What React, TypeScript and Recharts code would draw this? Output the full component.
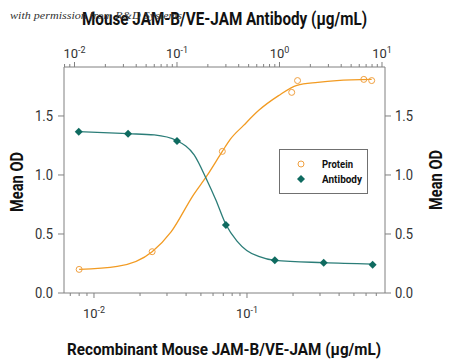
import React from 'react';
import { ComposedChart, XAxis, YAxis, Line, Scatter, Legend } from 'recharts';

// measured points: protein on bottom axis, antibody on top axis
const proteinConc = [0.008, 0.024, 0.069, 0.196, 0.214, 0.58, 0.653];
const proteinOD = [0.2, 0.35, 1.2, 1.7, 1.8, 1.81, 1.8];
const antibodyConc = [0.011, 0.0333, 0.1, 0.3, 0.9, 2.7, 8.1];
const antibodyOD = [1.367, 1.35, 1.288, 0.576, 0.277, 0.257, 0.24];

// fitted curves
const proteinFitConc = [0.008, 0.0142, 0.024, 0.032, 0.0446, 0.0545, 0.069, 0.0775, 0.095, 0.12, 0.16, 0.212, 0.29, 0.386, 0.653];
const proteinFitOD = [0.2, 0.225, 0.35, 0.52, 0.83, 0.99, 1.2, 1.3, 1.42, 1.55, 1.67, 1.76, 1.785, 1.8, 1.81];
const antibodyFitConc = [0.011, 0.0333, 0.06, 0.1, 0.147, 0.195, 0.239, 0.3, 0.385, 0.479, 0.626, 0.9, 2.7, 8.1];
const antibodyFitOD = [1.367, 1.35, 1.339, 1.29, 1.17, 0.96, 0.79, 0.58, 0.44, 0.36, 0.31, 0.277, 0.257, 0.245];

const yTicks = [0, 0.5, 1, 1.5];
const yTickLabels = ['0.0', '0.5', '1.0', '1.5'];
const bottomMajor = [0.01, 0.1];
const bottomMajorExp = ['-2', '-1'];
const bottomMinor = [0.007, 0.008, 0.009, 0.02, 0.03, 0.04, 0.05, 0.06, 0.07, 0.08, 0.09, 0.2, 0.3, 0.4, 0.5, 0.6, 0.7];
const topMajor = [0.01, 0.1, 1, 10];
const topMajorExp = ['-2', '-1', '0', '1'];
const topMinor = [0.008, 0.009, 0.02, 0.03, 0.04, 0.05, 0.06, 0.07, 0.08, 0.09, 0.2, 0.3, 0.4, 0.5, 0.6, 0.7, 0.8, 0.9, 2, 3, 4, 5, 6, 7, 8, 9];

const proteinPts = proteinConc.map((x, i) => ({ x, y: proteinOD[i] }));
const antibodyPts = antibodyConc.map((x, i) => ({ x, y: antibodyOD[i] }));
const proteinFit = proteinFitConc.map((x, i) => ({ x, y: proteinFitOD[i] }));
const antibodyFit = antibodyFitConc.map((x, i) => ({ x, y: antibodyFitOD[i] }));

const FONT = 'Roboto, "Liberation Sans", sans-serif';
const AXIS = '#808080';
const ORANGE_LINE = '#F29B22';
const ORANGE_PT = '#F0A040';
const TEAL_LINE = '#2B7D78';
const TEAL_PT = '#0F6B60';

const BottomTick = (props: any) => {
  const { x, y, payload } = props;
  const idx = bottomMajor.indexOf(payload.value);
  const major = idx >= 0;
  return (
    <g>
      <line x1={x} x2={x} y1={y} y2={y + (major ? 5 : 3)} stroke={AXIS} />
      {major && (
        <text x={x} y={y + 25} textAnchor="middle" fontSize={13} fontFamily={FONT} fill="#333">
          10<tspan dy={-5} fontSize={9}>{bottomMajorExp[idx]}</tspan>
        </text>
      )}
    </g>
  );
};

const TopTick = (props: any) => {
  const { x, y, payload } = props;
  const idx = topMajor.indexOf(payload.value);
  const major = idx >= 0;
  return (
    <g>
      <line x1={x} x2={x} y1={y} y2={y - (major ? 5 : 3)} stroke={AXIS} />
      {major && (
        <text x={x} y={y - 9} textAnchor="middle" fontSize={13} fontFamily={FONT} fill="#333">
          10<tspan dy={-5} fontSize={9}>{topMajorExp[idx]}</tspan>
        </text>
      )}
    </g>
  );
};

const LeftTick = (props: any) => {
  const { x, y, payload } = props;
  const label = yTickLabels[yTicks.indexOf(payload.value)];
  return (
    <g>
      <line x1={x - 6} x2={x} y1={y} y2={y} stroke={AXIS} />
      <text x={x - 11} y={y + 5} textAnchor="end" fontSize={15} fontFamily={FONT} fill="#333"
        textLength={18} lengthAdjust="spacingAndGlyphs">{label}</text>
    </g>
  );
};

const RightTick = (props: any) => {
  const { x, y, payload } = props;
  const label = yTickLabels[yTicks.indexOf(payload.value)];
  return (
    <g>
      <line x1={x} x2={x + 6} y1={y} y2={y} stroke={AXIS} />
      <text x={x + 10} y={y + 5} textAnchor="start" fontSize={15} fontFamily={FONT} fill="#333"
        textLength={18} lengthAdjust="spacingAndGlyphs">{label}</text>
    </g>
  );
};

const TopTitle = () => (
  <g>
    <text x={82} y={25} fontSize={18.5} fontWeight="bold" fontFamily={FONT} fill="#111"
      textLength={285} lengthAdjust="spacingAndGlyphs">Mouse JAM-B/VE-JAM Antibody (μg/mL)</text>
    <text x={10} y={19} fontSize={11} fontStyle="italic" fontFamily='"Liberation Serif", serif' fill="#333"
      textLength={172} lengthAdjust="spacingAndGlyphs">with permission from R&amp;D Systems</text>
  </g>
);

const BottomTitle = () => (
  <text x={67} y={355} fontSize={17} fontWeight="bold" fontFamily={FONT} fill="#111"
    textLength={314} lengthAdjust="spacingAndGlyphs">Recombinant Mouse JAM-B/VE-JAM (μg/mL)</text>
);

const LeftTitle = () => (
  <text transform="rotate(-90)" x={-182} y={23} textAnchor="middle" fontSize={18} fontWeight="bold"
    fontFamily={FONT} fill="#111" textLength={60} lengthAdjust="spacingAndGlyphs">Mean OD</text>
);

const RightTitle = () => (
  <text transform="rotate(-90)" x={-180} y={442} textAnchor="middle" fontSize={18} fontWeight="bold"
    fontFamily={FONT} fill="#111" textLength={60} lengthAdjust="spacingAndGlyphs">Mean OD</text>
);

const LegendBox = () => (
  <div style={{ width: 89, height: 45, border: '1px solid #707070', boxSizing: 'border-box', background: '#fff' }}>
    <svg width={87} height={43} style={{ display: 'block' }}>
      <circle cx={21} cy={14} r={3} fill="none" stroke={ORANGE_PT} />
      <text x={42} y={18} fontSize={11} fontWeight="bold" fontFamily={FONT} fill="#111"
        textLength={31} lengthAdjust="spacingAndGlyphs">Protein</text>
      <path d="M21,25 L25,29 L21,33 L17,29 Z" fill={TEAL_PT} />
      <text x={42} y={33} fontSize={11} fontWeight="bold" fontFamily={FONT} fill="#111"
        textLength={40} lengthAdjust="spacingAndGlyphs">Antibody</text>
    </svg>
  </div>
);

const circleShape = (p: any) => (
  <circle cx={p.cx} cy={p.cy} r={3} fill="none" stroke={ORANGE_PT} strokeWidth={1} />
);
const diamondShape = (p: any) => (
  <path d={`M${p.cx},${p.cy - 4} L${p.cx + 4},${p.cy} L${p.cx},${p.cy + 4} L${p.cx - 4},${p.cy} Z`} fill={TEAL_PT} />
);

export default function App() {
  const bottomTicks = [...bottomMinor, ...bottomMajor].sort((a, b) => a - b);
  const topTicks = [...topMinor, ...topMajor].sort((a, b) => a - b);
  return (
    <div style={{ position: 'absolute', left: 0, top: 0, background: '#fff' }}>
      <ComposedChart width={450} height={362} margin={{ top: 0, right: 0, bottom: 0, left: 0 }}>
        <XAxis xAxisId="bottom" orientation="bottom" type="number" dataKey="x" scale="log"
          domain={[0.00637, 0.798]} allowDataOverflow ticks={bottomTicks} interval={0}
          height={69} tickSize={0} tickMargin={0} tickLine={false} stroke={AXIS}
          tick={<BottomTick />} label={<BottomTitle />} />
        <XAxis xAxisId="top" orientation="top" type="number" dataKey="x" scale="log"
          domain={[0.0079, 10.7]} allowDataOverflow ticks={topTicks} interval={0}
          height={67} tickSize={0} tickMargin={0} tickLine={false} stroke={AXIS}
          tick={<TopTick />} label={<TopTitle />} />
        <YAxis yAxisId="left" type="number" dataKey="y" domain={[0, 1.915]} allowDataOverflow
          ticks={yTicks} interval={0} width={64} tickSize={0} tickMargin={0} tickLine={false}
          stroke={AXIS} tick={<LeftTick />} label={<LeftTitle />} />
        <YAxis yAxisId="right" orientation="right" type="number" dataKey="y" domain={[0, 1.915]}
          allowDataOverflow ticks={yTicks} interval={0} width={65} tickSize={0} tickMargin={0}
          tickLine={false} stroke={AXIS} tick={<RightTick />} label={<RightTitle />} />
        <Line xAxisId="bottom" yAxisId="left" data={proteinFit} dataKey="y" type="monotone"
          stroke={ORANGE_LINE} strokeWidth={1.3} dot={false} isAnimationActive={false} />
        <Line xAxisId="top" yAxisId="left" data={antibodyFit} dataKey="y" type="monotone"
          stroke={TEAL_LINE} strokeWidth={1.3} dot={false} isAnimationActive={false} />
        <Scatter xAxisId="bottom" yAxisId="left" data={proteinPts} dataKey="y" name="Protein"
          shape={circleShape} isAnimationActive={false} />
        <Scatter xAxisId="top" yAxisId="left" data={antibodyPts} dataKey="y" name="Antibody"
          shape={diamondShape} isAnimationActive={false} />
        <Legend content={<LegendBox />} layout="vertical" align="center" verticalAlign="middle"
          wrapperStyle={{ left: 279, top: 149, width: 89, height: 45 }} />
      </ComposedChart>
    </div>
  );
}
